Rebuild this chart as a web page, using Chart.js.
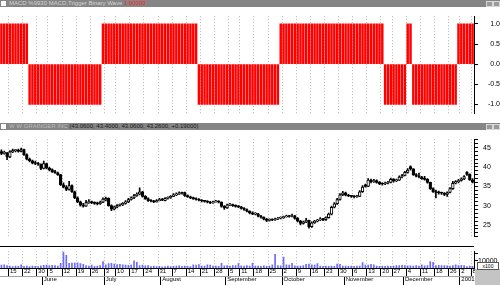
<!DOCTYPE html>
<html>
<head>
<meta charset="utf-8">
<script src="https://cdn.jsdelivr.net/npm/chart.js@4.4.1/dist/chart.umd.min.js"></script>
<style>
  body { margin: 0; width: 500px; height: 285px; position: relative; overflow: hidden; background: #fff;
         font-family: "Liberation Sans", Arial, sans-serif; }
  .pane { position: absolute; left: 0; width: 500px; }
  .bar  { position: absolute; left: 0; width: 500px; height: 7px; background: #858585;
          font-size: 6px; line-height: 7px; white-space: nowrap; overflow: hidden; }
  .bar .ico { position: absolute; left: 1px; top: 1px; width: 5px; height: 5px; background: #fff; }
  .bar .txt { position: absolute; left: 9px; top: 0; }
  .btn { position: absolute; top: 1px; width: 5px; height: 4px; border: 1px solid #d8d8d8; background: #9a9a9a; }
  #x100 { position: absolute; left: 477px; top: 262px; width: 20px; height: 6px; border: 1px solid #555;
          background: #fff; font-size: 5px; line-height: 6px; text-align: center; }
  #corner { position: absolute; left: 475px; top: 269px; width: 25px; height: 16px; background: #c4c4c4; }
</style>
</head>
<body>

<div class="bar" style="top:0">
  <div class="ico"></div>
  <div class="txt"><span style="color:#d4d4d4">MACD %9930 MACD,Trigger Binary Wave</span>
    <span style="color:#ff1a1a">1.00000</span></div>
  <div class="btn" style="left:486px"></div><div class="btn" style="left:493px"></div>
</div>
<div class="pane" style="top:7px;height:116px"><canvas id="macd" width="500" height="116"></canvas></div>

<div class="bar" style="top:123px">
  <div class="ico"></div>
  <div class="txt"><span style="color:#bcbcbc">W W GRAINGER INC</span>
    <span style="color:#1a1a1a">(43.0600, 43.4000, 43.0600, 43.2600, +0.19000)</span></div>
  <div class="btn" style="left:486px"></div><div class="btn" style="left:493px"></div>
</div>
<div class="pane" style="top:130px;height:116px"><canvas id="price" width="500" height="116"></canvas></div>

<div class="pane" style="top:246px;height:1px;width:474px;background:#000"></div>
<div class="pane" style="top:247px;height:38px"><canvas id="vol" width="500" height="38"></canvas></div>
<div id="corner"></div>
<div id="x100">x100</div>

<script>
/* Trading days May 10 2000 - Jan 8 2001 (category labels) */
const HOLIDAYS = ['2000-05-29', '2000-07-04', '2000-09-04', '2000-11-23', '2000-12-25', '2001-01-01'];
const MONTHS = ['Jan', 'Feb', 'Mar', 'Apr', 'May', 'June', 'July', 'August',
                'September', 'October', 'November', 'December'];

/* MACD / trigger binary wave, +1 / -1 per day */
const wave = [
   1, 1, 1, 1, 1, 1, 1, 1, 1, 1,
  -1,-1,-1,-1,-1,-1,-1,-1,-1,-1,
  -1,-1,-1,-1,-1,-1,-1,-1,-1,-1,
  -1,-1,-1,-1,-1,-1, 1, 1, 1, 1,
   1, 1, 1, 1, 1, 1, 1, 1, 1, 1,
   1, 1, 1, 1, 1, 1, 1, 1, 1, 1,
   1, 1, 1, 1, 1, 1, 1, 1, 1, 1,
  -1,-1,-1,-1,-1,-1,-1,-1,-1,-1,
  -1,-1,-1,-1,-1,-1,-1,-1,-1,-1,
  -1,-1,-1,-1,-1,-1,-1,-1,-1, 1,
   1, 1, 1, 1, 1, 1, 1, 1, 1, 1,
   1, 1, 1, 1, 1, 1, 1, 1, 1, 1,
   1, 1, 1, 1, 1, 1, 1, 1, 1, 1,
   1, 1, 1, 1, 1, 1,-1,-1,-1,-1,
  -1,-1,-1,-1, 1, 1,-1,-1,-1,-1,
  -1,-1,-1,-1,-1,-1,-1,-1,-1,-1,
  -1,-1, 1, 1, 1, 1, 1, 1
];

/* Daily OHLC */
const open = [
  44.0,43.5,43.6,42.6,43.9,44.2,44.3,44.0,44.5,43.2,
  42.0,41.6,41.0,40.9,40.7,39.6,40.9,39.7,39.3,38.8,
  38.5,38.0,35.4,34.8,34.2,35.2,33.6,32.0,31.0,30.1,
  29.9,30.8,31.0,30.8,30.6,30.5,30.9,31.4,31.9,30.0,
  29.1,29.6,30.1,30.2,30.6,31.0,31.6,32.0,32.6,33.0,
  33.6,32.4,31.8,31.3,31.2,31.0,31.3,31.6,31.3,31.9,
  32.1,32.4,32.8,33.0,33.3,33.4,32.6,32.3,32.0,31.8,
  31.6,31.4,31.2,31.1,30.9,30.7,31.0,31.1,30.9,29.8,
  29.4,30.2,30.3,30.0,29.8,29.7,29.3,29.0,28.6,28.1,
  27.8,27.9,27.3,27.0,26.5,26.2,26.4,26.3,26.5,26.8,
  26.9,27.1,27.3,27.2,27.4,26.7,26.0,25.4,25.8,26.2,
  24.6,25.6,26.0,26.3,26.6,26.4,26.9,27.8,29.6,30.5,
  31.6,32.8,33.3,32.7,32.5,32.4,32.3,32.4,33.6,35.4,
  35.0,36.6,36.2,36.5,36.0,35.7,35.6,35.8,36.0,36.8,
  36.4,36.6,37.4,37.8,38.6,40.1,39.5,38.0,37.6,37.4,
  37.0,36.8,36.0,34.4,33.6,33.4,33.3,33.2,32.9,33.4,
  34.4,35.8,36.2,36.5,36.9,38.6,38.1,36.7
];
const high = [
  44.4,44.1,43.8,44.2,44.6,44.5,44.6,44.9,44.6,43.4,
  42.3,41.8,41.5,41.2,40.8,41.5,41.0,40.0,39.5,39.1,
  38.7,38.1,35.9,35.2,36.3,35.4,33.8,32.3,31.2,30.6,
  31.4,31.6,31.2,31.0,30.9,31.2,32.0,32.2,32.0,30.2,
  29.9,30.3,30.5,30.8,31.3,31.9,32.3,32.9,33.3,34.6,
  33.7,32.6,32.0,31.6,31.4,31.6,31.9,31.8,32.1,32.3,
  32.6,33.1,33.3,33.6,33.5,33.5,32.8,32.5,32.2,32.0,
  31.8,31.6,31.4,31.3,31.1,31.2,31.4,31.3,31.0,30.0,
  30.4,30.6,30.4,30.2,30.0,29.8,29.5,29.2,28.7,28.4,
  28.2,28.0,27.5,27.1,26.7,26.6,26.6,26.8,27.0,27.1,
  27.3,27.6,27.5,27.8,27.5,26.9,26.2,26.0,26.7,26.3,
  25.8,26.2,26.5,26.9,26.7,27.1,28.1,29.9,30.8,31.9,
  33.1,33.7,33.5,32.9,32.7,32.6,32.7,33.9,35.2,35.6,
  37.0,36.9,36.8,36.7,36.2,35.9,36.1,36.3,37.1,37.0,
  36.9,37.7,38.1,38.9,39.6,40.3,39.6,38.3,38.4,37.6,
  37.6,37.0,36.1,34.6,34.0,33.8,33.5,33.4,33.6,34.7,
  36.3,36.5,36.8,37.2,37.8,38.8,38.2,37.0
];
const low = [
  43.2,43.3,41.9,42.4,43.7,43.9,43.8,43.9,43.0,41.8,
  41.3,40.8,40.6,40.4,39.3,39.5,39.5,39.0,38.6,38.3,
  37.8,35.2,34.6,33.9,34.0,33.4,31.8,30.8,29.9,29.6,
  29.8,30.6,30.5,30.3,30.2,30.3,30.8,31.2,29.9,28.7,
  28.9,29.4,29.9,30.0,30.4,30.8,31.4,31.8,32.4,32.8,
  32.2,31.6,31.1,31.0,30.8,30.9,31.2,31.3,31.2,31.7,
  31.9,32.3,32.6,32.9,33.0,32.4,32.1,31.8,31.6,31.4,
  31.2,31.0,30.9,30.7,30.5,30.6,30.9,30.7,29.6,29.0,
  29.3,30.0,29.8,29.6,29.5,29.1,28.8,28.4,27.9,27.7,
  27.6,27.1,26.8,26.3,25.9,26.0,26.1,26.2,26.4,26.6,
  26.7,27.0,27.0,27.1,26.5,25.8,25.0,25.2,25.6,24.2,
  24.4,25.4,25.8,26.1,26.1,26.2,26.8,27.6,29.4,30.3,
  31.4,32.6,32.5,32.3,32.1,32.0,32.1,32.3,33.4,34.8,
  34.9,35.9,36.0,35.8,35.4,35.3,35.4,35.6,35.9,36.1,
  36.2,36.5,37.2,37.7,38.4,39.2,37.8,37.4,37.2,36.8,
  36.6,35.8,34.2,33.4,32.0,33.0,32.9,32.6,32.4,33.3,
  34.2,35.6,35.9,36.3,36.7,37.8,36.5,35.9
];
const close = [
  43.5,43.8,42.6,43.9,44.2,44.3,44.0,44.5,43.2,42.0,
  41.6,41.0,40.9,40.7,39.6,40.9,39.7,39.3,38.8,38.5,
  38.0,35.4,34.8,34.2,35.2,33.6,32.0,31.0,30.1,29.9,
  30.8,31.0,30.8,30.6,30.5,30.9,31.7,31.9,30.0,29.1,
  29.7,30.1,30.3,30.6,31.0,31.6,32.0,32.6,33.0,33.6,
  32.4,31.8,31.3,31.2,31.0,31.3,31.6,31.5,31.9,32.1,
  32.4,32.8,33.0,33.3,33.2,32.6,32.3,32.0,31.8,31.6,
  31.4,31.2,31.1,30.9,30.7,31.0,31.1,30.9,29.8,29.4,
  30.2,30.3,30.0,29.8,29.7,29.3,29.0,28.6,28.1,27.9,
  27.9,27.3,27.0,26.5,26.2,26.4,26.3,26.5,26.8,26.9,
  27.1,27.3,27.2,27.4,26.7,26.0,25.4,25.8,26.2,24.6,
  25.6,26.0,26.3,26.6,26.4,26.9,27.8,29.6,30.5,31.6,
  32.8,33.3,32.7,32.5,32.4,32.3,32.4,33.6,34.8,35.0,
  36.6,36.2,36.5,36.0,35.7,35.6,35.8,36.0,36.8,36.4,
  36.6,37.4,37.8,38.6,39.2,39.5,38.0,37.6,37.4,37.0,
  36.8,36.0,34.4,33.6,33.4,33.3,33.2,32.9,33.4,34.4,
  35.8,36.2,36.5,36.9,37.5,38.1,36.7,36.1
];

/* Daily volume, in hundreds of shares */
const volume = [
  4000,4500,3500,2500,2000,2800,2400,4500,2200,2600,
  2000,2800,2400,2100,3000,3600,4000,3200,3800,3500,
  2600,6600,22000,17500,6500,7000,6800,7200,6000,5000,
  3200,2500,4000,2200,2800,3500,8750,4500,6000,6500,
  5500,4800,5200,4500,4000,3800,4200,10000,8000,3500,
  4000,3000,3500,2000,2500,1800,2200,1500,2000,2500,
  1800,2200,2500,3000,2200,2800,2400,2000,4500,4000,
  4800,2500,2800,4500,4200,2500,2800,2200,6600,3000,
  3500,2800,3200,3500,6000,3000,2500,3500,2800,6600,
  2500,2800,2200,3000,2400,2600,4500,19000,3500,3000,
  15000,4500,4000,6600,3000,2800,2500,3200,5000,5500,
  4500,4000,6000,2500,2200,2800,2400,2600,2200,5500,
  5000,2500,2800,2200,2600,2400,2800,2500,7500,4000,
  4200,5000,4500,2500,2200,2800,2400,2600,2200,2500,
  3500,3200,3800,3500,3000,3000,2800,3200,2600,4500,
  3000,3500,8750,8000,3500,3800,3200,3500,3000,2800,
  3200,4500,3500,3800,3200,2000,2500,2200
];

const waveTicks  = [-1, -0.5, 0, 0.5, 1];
const volTicks   = [10000, 20000];
const volLabels  = [10000];

/* build the trading-day list */
const days = [];
for (let t = Date.UTC(2000, 4, 10); t <= Date.UTC(2001, 0, 8); t += 864e5) {
  const d = new Date(t), iso = d.toISOString().slice(0, 10);
  if (d.getUTCDay() % 6 && !HOLIDAYS.includes(iso)) days.push(d);
}
const labels     = days.map(d => d.toISOString().slice(0, 10));
const weekStart  = days.map((d, i) => i > 0 && d.getUTCDay() <= days[i - 1].getUTCDay());
const monthStart = days.map((d, i) => i > 0 && d.getUTCMonth() !== days[i - 1].getUTCMonth());
const monthName  = d => d.getUTCMonth() === 0 ? String(d.getUTCFullYear()) : MONTHS[d.getUTCMonth()];

Chart.defaults.font.family = '"Liberation Sans", Arial, sans-serif';
Chart.defaults.font.size = 7;
Chart.defaults.color = '#000';

const wk = c => weekStart[c.index] ? 1 : 0;
const mo = c => monthStart[c.index] ? 1 : 0;

/* hidden x axis that only draws the dotted week lines */
const gridX = () => ({
  type: 'category', offset: true,
  grid: { offset: true, color: '#b4b4b4', lineWidth: wk, drawTicks: false },
  border: { display: false, dash: [1, 2] },
  ticks: { display: false, autoSkip: false },
  afterFit: s => { s.height = 0; }
});

const rightY = extra => Object.assign({
  position: 'right',
  grid: { drawOnChartArea: false, tickLength: 4, color: '#000', tickColor: '#000' },
  border: { display: true, color: '#000' },
  afterFit: s => { s.width = 26; }
}, extra);

const common = {
  responsive: false, animation: false, events: [],
  layout: { padding: 0 },
  plugins: { legend: { display: false }, tooltip: { enabled: false } }
};

/* MACD binary wave */
new Chart(document.getElementById('macd'), {
  type: 'bar',
  data: { labels, datasets: [{ data: wave, backgroundColor: '#ff0000', barThickness: 1.8 }] },
  options: Object.assign({}, common, {
    scales: {
      x: gridX(),
      y: rightY({
        min: -1.23, max: 1.19,
        afterBuildTicks: s => { s.ticks = waveTicks.map(v => ({ value: v })); },
        ticks: { autoSkip: false, crossAlign: 'far', padding: 5, callback: v => v.toFixed(1) }
      })
    }
  })
});

/* candlesticks */
new Chart(document.getElementById('price'), {
  type: 'bar',
  data: {
    labels,
    datasets: [
      { data: low.map((l, i) => [l, high[i]]), backgroundColor: '#000', barThickness: 1,
        grouped: false, order: 2 },
      { data: open.map((o, i) => [o, close[i]]),
        backgroundColor: open.map((o, i) => close[i] >= o ? '#fff' : '#000'),
        borderColor: '#000', borderWidth: 1, borderSkipped: false, minBarLength: 1,
        barThickness: 2.7, grouped: false, order: 1 }
    ]
  },
  options: Object.assign({}, common, {
    scales: {
      x: gridX(),
      y: rightY({
        min: 21.96, max: 47.17,
        ticks: { autoSkip: false, stepSize: 1, includeBounds: false, padding: 5,
                 callback: v => v % 5 === 0 ? v : '' }
      })
    }
  })
});

/* volume + date axes */
new Chart(document.getElementById('vol'), {
  type: 'bar',
  data: { labels, datasets: [{ data: volume, backgroundColor: '#6a6aff', barThickness: 1 }] },
  options: Object.assign({}, common, {
    scales: {
      x: {
        type: 'category', offset: true, weight: 0,
        grid: { offset: true, color: '#b4b4b4', lineWidth: wk, tickWidth: wk,
                drawTicks: true, tickLength: 8, tickColor: '#000' },
        border: { display: true, color: '#000', dash: [1, 2] },
        ticks: { autoSkip: false, maxRotation: 0, minRotation: 0, align: 'start', padding: -8,
                 font: { size: 6 }, callback: (v, i) => weekStart[i] ? String(days[i].getUTCDate()) : '' },
        afterFit: s => { s.height = 8; }
      },
      xm: {
        type: 'category', position: 'bottom', offset: true, weight: 1,
        grid: { offset: true, drawOnChartArea: false, lineWidth: mo, tickWidth: mo,
                drawTicks: true, tickLength: 9, tickColor: '#000' },
        border: { display: true, color: '#a0a0a0' },
        ticks: { autoSkip: false, maxRotation: 0, minRotation: 0, align: 'start', padding: -9,
                 font: { size: 6 }, callback: (v, i) => monthStart[i] ? monthName(days[i]) : '' },
        afterFit: s => { s.height = 9; }
      },
      y: rightY({
        min: 0, max: 23333,
        afterBuildTicks: s => { s.ticks = volTicks.map(v => ({ value: v })); },
        ticks: { autoSkip: false, padding: 0, callback: v => volLabels.includes(v) ? String(v) : '' }
      })
    }
  })
});
</script>
</body>
</html>
